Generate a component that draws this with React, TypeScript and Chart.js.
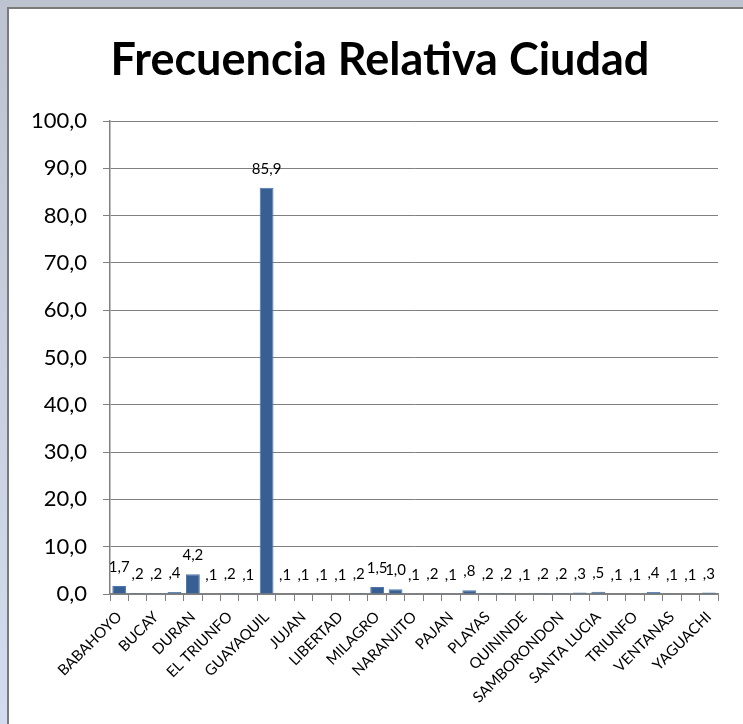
import React, { useEffect, useRef } from "react";
import { Chart, registerables } from "chart.js";

Chart.register(...registerables);

const chartTitle = "Frecuencia Relativa Ciudad";

const categories = [
  "BABAHOYO", "BALZAR", "BUCAY", "DAULE", "DURAN", "EL EMPALME", "EL TRIUNFO", "ESMERALDAS",
  "GUAYAQUIL", "JIPIJAPA", "JUJAN", "LA TRONCAL", "LIBERTAD", "MACHALA", "MILAGRO", "NARANJAL",
  "NARANJITO", "NOBOL", "PAJAN", "PEDRO CARBO", "PLAYAS", "QUEVEDO", "QUININDE", "SALINAS",
  "SAMBORONDON", "SANTA ELENA", "SANTA LUCIA", "SIMON BOLIVAR", "TRIUNFO", "URDANETA",
  "VENTANAS", "VINCES", "YAGUACHI",
];

const values = [
  1.7, 0.2, 0.2, 0.4, 4.2, 0.1, 0.2, 0.1,
  85.9, 0.1, 0.1, 0.1, 0.1, 0.2, 1.5, 1.0,
  0.1, 0.2, 0.1, 0.8, 0.2, 0.2, 0.1, 0.2,
  0.2, 0.3, 0.5, 0.1, 0.1, 0.4, 0.1, 0.1, 0.3,
];

const yTicks = [0, 10, 20, 30, 40, 50, 60, 70, 80, 90, 100];

const fmtValue = (v: number) => {
  const s = v.toFixed(1).replace(".", ",");
  return s.startsWith("0,") ? s.slice(1) : s;
};

const dataLabels = {
  id: "dataLabels",
  afterDatasetsDraw(chart: any) {
    const ctx = chart.ctx;
    const meta = chart.getDatasetMeta(0);
    ctx.save();
    ctx.font = "15px Lato";
    ctx.fillStyle = "#000";
    ctx.textAlign = "center";
    ctx.textBaseline = "alphabetic";
    meta.data.forEach((bar: any, i: number) => {
      ctx.fillText(fmtValue(values[i]), bar.x, bar.y - 14);
    });
    ctx.restore();
  },
};

const titlePlugin = {
  id: "customTitle",
  afterDraw(chart: any) {
    const ctx = chart.ctx;
    ctx.save();
    ctx.font = "bold 45px Lato";
    ctx.fillStyle = "#000";
    ctx.textAlign = "center";
    ctx.textBaseline = "middle";
    ctx.fillText(chartTitle, 371, 51);
    ctx.restore();
  },
};

export default function App() {
  const ref = useRef<HTMLCanvasElement>(null);
  useEffect(() => {
    if (!ref.current) return;
    const chart = new Chart(ref.current, {
      type: "bar",
      data: {
        labels: categories,
        datasets: [
          {
            data: values,
            backgroundColor: "#385F93",
            borderColor: "#4C77AE",
            borderWidth: 1,
            categoryPercentage: 1,
            barPercentage: 0.75,
          },
        ],
      },
      options: {
        responsive: false,
        animation: false,
        layout: { padding: { left: 0, right: 25, top: 112, bottom: 0 } },
        plugins: {
          legend: { display: false },
          tooltip: { enabled: false },
          title: { display: false },
        },
        scales: {
          x: {
            grid: {
              offset: true,
              drawOnChartArea: false,
              drawTicks: true,
              tickLength: 7,
              color: "#808080",
            },
            border: { color: "#808080", width: 1.5 },
            ticks: {
              autoSkip: false,
              maxRotation: 45,
              minRotation: 45,
              padding: 7,
              color: "#000",
              font: { family: "Lato", size: 15 },
              callback: (_v: any, i: number) => (i % 2 === 0 ? categories[i] : ""),
            },
            afterFit: (scale: any) => {
              scale.height = 130;
            },
          },
          y: {
            min: 0,
            max: 100,
            grid: { color: "#808080", tickLength: 7 },
            border: { color: "#808080", width: 1.5 },
            afterBuildTicks: (scale: any) => {
              scale.ticks = yTicks.map((v) => ({ value: v }));
            },
            ticks: {
              padding: 16,
              color: "#000",
              font: { family: "Lato", size: 22 },
              callback: (v: any) => Number(v).toFixed(1).replace(".", ","),
            },
            afterFit: (scale: any) => {
              scale.width = 101;
            },
          },
        },
      },
      plugins: [dataLabels, titlePlugin],
    });
    return () => chart.destroy();
  }, []);

  return (
    <div
      style={{
        position: "fixed",
        left: 0,
        top: 0,
        width: 743,
        height: 724,
        background: "linear-gradient(#bdc4d0, #d3dcef)",
        overflow: "hidden",
      }}
    >
      <div
        style={{
          position: "absolute",
          left: 7,
          top: 7,
          width: 736,
          height: 717,
          borderLeft: "2px solid #7a7a7a",
          borderTop: "2px solid #7a7a7a",
          background: "#fff",
        }}
      >
        <canvas ref={ref} width={734} height={715} style={{ display: "block" }} />
      </div>
    </div>
  );
}
